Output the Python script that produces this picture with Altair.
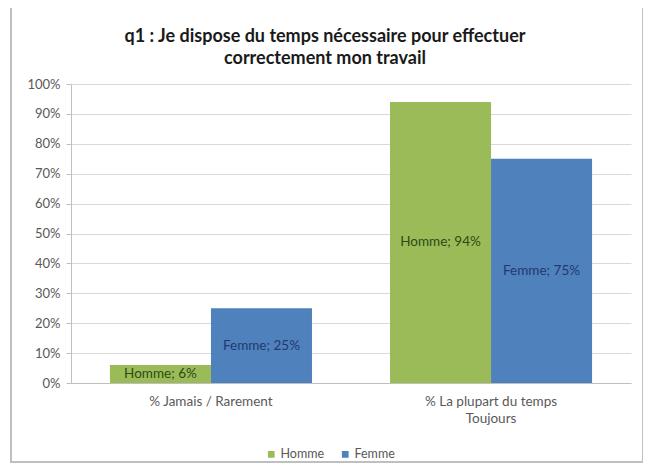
import altair as alt
import pandas as pd

title_lines = ["q1 : Je dispose du temps nécessaire pour effectuer", "correctement mon travail"]
categories = ["% Jamais / Rarement", "% La plupart du temps\nToujours"]
series = ["Homme", "Femme"]
homme = [0.06, 0.94]
femme = [0.25, 0.75]
y_ticks = [0.0, 0.1, 0.2, 0.3, 0.4, 0.5, 0.6, 0.7, 0.8, 0.9, 1.0]

rows = []
for i, c in enumerate(categories):
    rows.append({"cat": c, "serie": "Homme", "val": homme[i]})
    rows.append({"cat": c, "serie": "Femme", "val": femme[i]})
df = pd.DataFrame(rows)

FONT = "Lato"
GREEN = "#9BBB59"
BLUE = "#4F81BD"

x_enc = alt.X("cat:N", sort=categories,
              scale=alt.Scale(paddingInner=0.2786, paddingOuter=0.139),
              axis=alt.Axis(title=None, labelAngle=0, labelExpr="split(datum.label, '\\n')",
                            labelFont=FONT, labelFontSize=13.5, labelColor="#595959",
                            labelPadding=11, ticks=False, grid=False, domainColor="#BFBFBF",
                            labelLineHeight=17))
xoff = alt.XOffset("serie:N", sort=series)
y_enc = alt.Y("val:Q", scale=alt.Scale(domain=[0, 1], nice=False),
              axis=alt.Axis(title=None, format=".0%", values=y_ticks, tickCount=11,
                            labelOverlap=False,
                            labelFont=FONT, labelFontSize=13, labelColor="#595959",
                            gridColor="#D9D9D9", domainColor="#BFBFBF", tickColor="#BFBFBF",
                            tickSize=5, labelPadding=6))

bars = alt.Chart(df).mark_bar().encode(
    x=x_enc,
    xOffset=xoff,
    y=y_enc,
    color=alt.Color("serie:N", sort=series,
                    scale=alt.Scale(domain=series, range=[GREEN, BLUE]),
                    legend=alt.Legend(title=None, orient="none", legendX=194, legendY=364,
                                      direction="horizontal", symbolType="square", symbolSize=45,
                                      symbolStrokeWidth=0, labelFont=FONT, labelFontSize=12.5,
                                      labelColor="#595959", columnPadding=14, labelOffset=3)),
)

labels = alt.Chart(df).transform_calculate(
    mid="datum.val / 2",
    txt="datum.serie + '; ' + format(datum.val, '.0%')",
).mark_text(font=FONT, fontSize=13.5, baseline="middle").encode(
    x=alt.X("cat:N", sort=categories),
    xOffset=xoff,
    y=alt.Y("mid:Q"),
    text="txt:N",
    color=alt.Color("serie:N", sort=series,
                    scale=alt.Scale(domain=series, range=["#2F4A12", "#1F3A6E"]),
                    legend=None),
)

frame = alt.Chart(df).mark_rect(fill=None, stroke="#BFBFBF", strokeWidth=2).encode(
    x=alt.value(-60), x2=alt.value(572), y=alt.value(-78), y2=alt.value(378)
)

title1 = alt.Chart(pd.DataFrame({"t": [title_lines[0]]})).mark_text(
    font=FONT, fontSize=18, fontWeight="bold", color="#1A1A1A", align="center", baseline="middle"
).encode(text="t:N", x=alt.value(254), y=alt.value(-47))
title2 = alt.Chart(pd.DataFrame({"t": [title_lines[1]]})).mark_text(
    font=FONT, fontSize=18, fontWeight="bold", color="#1A1A1A", align="center", baseline="middle"
).encode(text="t:N", x=alt.value(254), y=alt.value(-25))

chart = alt.layer(frame, bars, labels, title1, title2).resolve_scale(color="independent").properties(
    width=560, height=299,
    background="white",
    autosize=alt.AutoSizeParams(type="none"),
    padding={"left": 63, "top": 76, "right": 12, "bottom": 81},
).configure_view(strokeWidth=0, stroke="transparent")

chart.save("out.html", embed_options={"renderer": "svg", "actions": False})
